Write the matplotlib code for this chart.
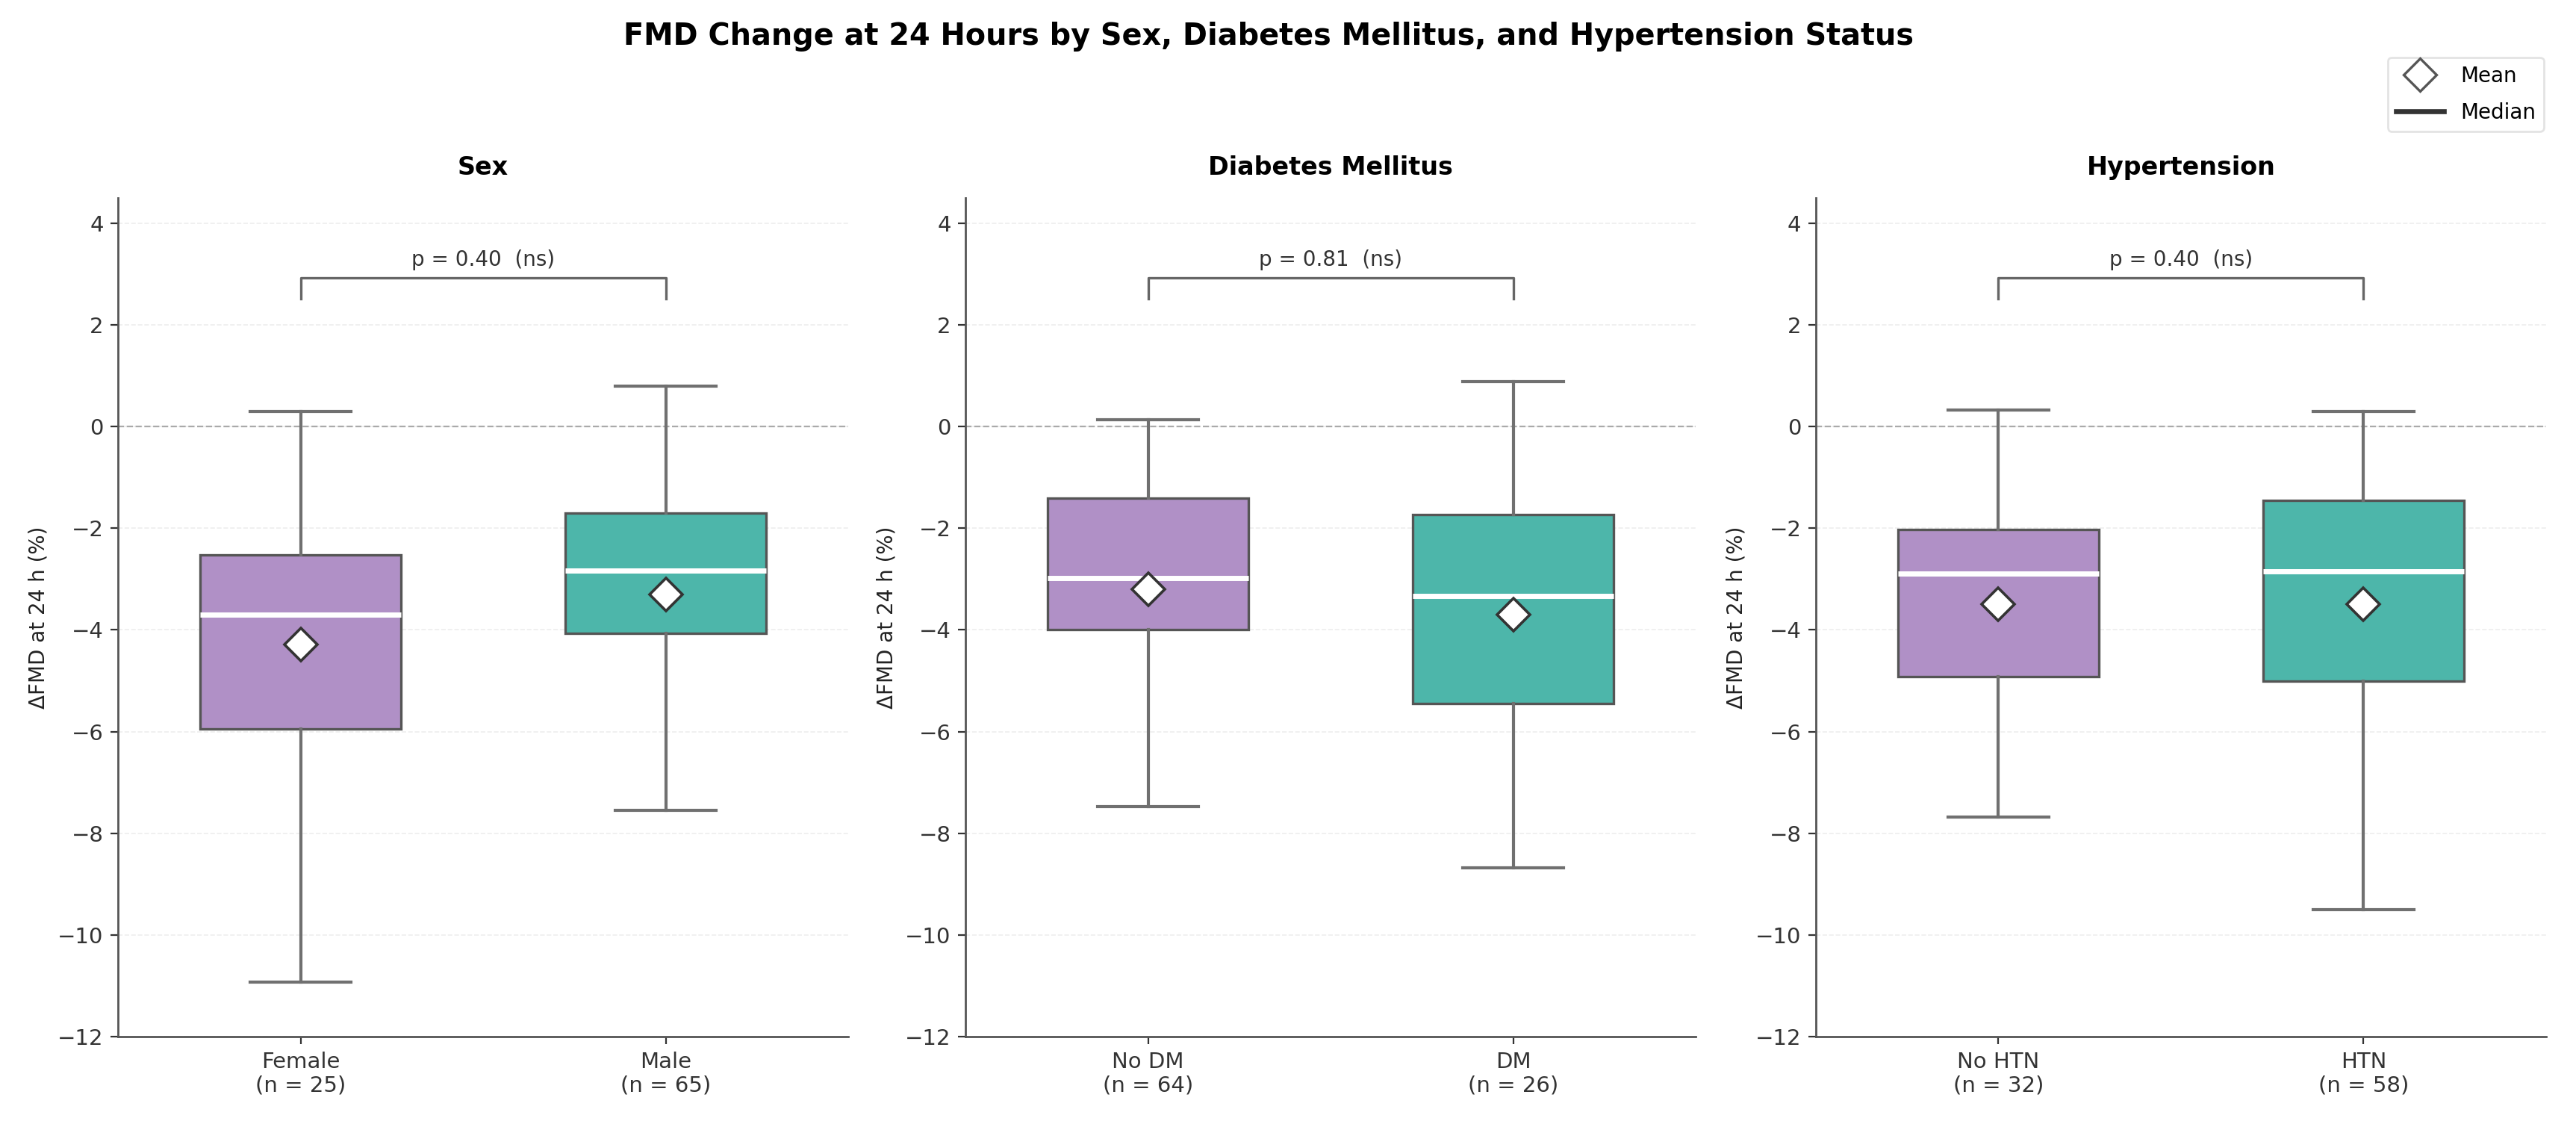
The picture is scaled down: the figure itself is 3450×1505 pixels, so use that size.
import matplotlib
matplotlib.use("Agg")
import matplotlib.pyplot as plt
from matplotlib.lines import Line2D

# === DATA ===
PANEL_TITLES = ["Sex", "Diabetes Mellitus", "Hypertension"]
GROUP_LABELS = [["Female", "Male"], ["No DM", "DM"], ["No HTN", "HTN"]]
GROUP_N = [[25, 65], [64, 26], [32, 58]]
Q1 = [[-5.95, -4.07], [-4.00, -5.45], [-4.92, -5.00]]
MEDIAN = [[-3.70, -2.83], [-2.98, -3.33], [-2.89, -2.85]]
Q3 = [[-2.53, -1.70], [-1.40, -1.73], [-2.02, -1.45]]
MEAN = [[-4.29, -3.30], [-3.20, -3.70], [-3.50, -3.50]]
WHISK_LO = [[-10.93, -7.55], [-7.48, -8.68], [-7.68, -9.50]]
WHISK_HI = [[0.29, 0.80], [0.14, 0.89], [0.33, 0.29]]
P_VALUES = ["0.40", "0.81", "0.40"]
P_TAGS = ["ns", "ns", "ns"]

# === STYLE ===
BOX_COLORS = ["#B090C6", "#4DB6AA"]
EDGE = "#555555"
WHISK = "#707070"
BRACKET_Y = 2.93
BRACKET_DROP = 0.42

fig = plt.figure(figsize=(17.25, 7.525), dpi=200)
lefts = [0.0458, 0.3748, 0.7049]
axes = [fig.add_axes([l, 0.0777, 0.2835, 0.7463]) for l in lefts]

for i, ax in enumerate(axes):
    stats = []
    for j in range(2):
        stats.append({
            "med": MEDIAN[i][j], "q1": Q1[i][j], "q3": Q3[i][j],
            "whislo": WHISK_LO[i][j], "whishi": WHISK_HI[i][j],
            "mean": MEAN[i][j], "fliers": [],
            "label": f"{GROUP_LABELS[i][j]}\n(n = {GROUP_N[i][j]})",
        })
    bp = ax.bxp(stats, positions=[0, 1], widths=0.55, patch_artist=True,
                showmeans=True, showfliers=False,
                boxprops=dict(edgecolor=EDGE, linewidth=1.2),
                whiskerprops=dict(color=WHISK, linewidth=1.5),
                capprops=dict(color=WHISK, linewidth=1.5),
                medianprops=dict(color="white", linewidth=2.5),
                meanprops=dict(marker="D", markerfacecolor="white",
                               markeredgecolor="#333333", markeredgewidth=1.3,
                               markersize=11))
    for patch, c in zip(bp["boxes"], BOX_COLORS):
        patch.set_facecolor(c)
        patch.set_zorder(2)

    ax.axhline(0, color="#aaaaaa", linestyle="--", linewidth=0.8, zorder=1)
    ax.set_xlim(-0.5, 1.5)
    ax.set_ylim(-12, 4.5)
    ax.set_yticks(range(-12, 5, 2))
    ax.yaxis.grid(True, color="#eeeeee", linestyle="--", linewidth=0.6, zorder=0)
    ax.set_axisbelow(True)
    for s in ["top", "right"]:
        ax.spines[s].set_visible(False)
    for s in ["left", "bottom"]:
        ax.spines[s].set_color("#555555")
        ax.spines[s].set_linewidth(1.0)
    ax.tick_params(labelsize=10.5, colors="#333333")
    ax.set_ylabel("ΔFMD at 24 h (%)", fontsize=10, color="#222222")
    ax.set_title(PANEL_TITLES[i], fontsize=12, fontweight="bold", pad=11)

    # significance bracket
    ax.plot([0, 0, 1, 1],
            [BRACKET_Y - BRACKET_DROP, BRACKET_Y, BRACKET_Y, BRACKET_Y - BRACKET_DROP],
            color="#666666", linewidth=1.2)
    ax.text(0.5, BRACKET_Y + 0.14, f"p = {P_VALUES[i]}  ({P_TAGS[i]})",
            ha="center", va="bottom", fontsize=10, color="#333333")

fig.suptitle("FMD Change at 24 Hours by Sex, Diabetes Mellitus, and Hypertension Status",
             fontsize=14.3, fontweight="bold", x=0.4925, y=0.981)

handles = [
    Line2D([], [], marker="D", linestyle="none", markerfacecolor="white",
           markeredgecolor="#555555", markersize=11, markeredgewidth=1.2),
    Line2D([], [], color="#333333", linewidth=2.4),
]
fig.legend(handles, ["Mean", "Median"], loc="upper right",
           bbox_to_anchor=(0.9875, 0.949), borderaxespad=0, fontsize=10,
           handlelength=2.3, labelspacing=0.75, frameon=True, edgecolor="#dddddd")

fig.savefig("out.png", dpi=200)
